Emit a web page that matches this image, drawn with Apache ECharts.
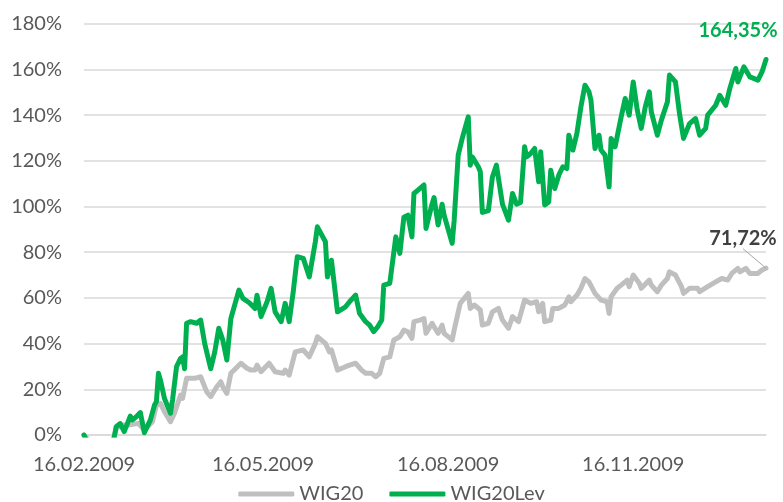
<!DOCTYPE html>
<html>
<head>
<meta charset="utf-8">
<script src="https://cdn.jsdelivr.net/npm/echarts@6/dist/echarts.min.js"></script>
<style>
html,body{margin:0;padding:0;background:#fff;}
#chart{width:783px;height:502px;}
</style>
</head>
<body>
<div id="chart"></div>
<script>
// ---- data (x = days since the start date) ----
const startDate = '16.02.2009';
const xTickLabels = ['16.02.2009', '16.05.2009', '16.08.2009', '16.11.2009'];
const seriesNames = ['WIG20', 'WIG20Lev'];
const endLabels = ['71,72%', '164,35%'];

const wigDays = [0,3,6,9,12,15,16,19,22,27,30,34,36,38,40,43,45,48,49,51,55,58,61,63,66,68,69,71,73,78,81,83,85,86,88,92,95,99,100,102,105,109,112,115,116,120,122,123,126,130,132,135,138,140,143,145,147,149,152,154,157,159,161,163,164,167,169,170,173,174,176,178,179,183,184,187,191,192,194,197,198,201,203,206,208,211,213,216,219,222,225,226,228,229,232,233,236,239,241,242,245,247,249,251,254,257,260,261,262,265,267,270,271,273,276,277,281,282,285,287,290,291,294,297,298,301,305,306,310,314,317,320,322,325,326,329,331,335,337,339];
const wigVals = [0,-3,-5,-4,-5,-1,2.9,4.4,4.4,5.1,2.2,5.8,13.1,13.8,10.2,5.8,9.5,17.5,16,24.8,24.8,25.5,18.9,16.8,21.1,23.3,21.1,18.2,27,31.4,29.2,28.4,28.4,30.6,27.7,31.4,27.7,27,28.4,26.2,36.4,37.2,34.2,40.1,43,40.1,36.4,37.2,28.4,29.9,30.6,31.4,28.4,27,27,25.5,27,33.5,34.2,41.6,43,45.9,45.2,42.3,49.6,50.3,51,44.5,48.9,47.4,44.5,48.1,44.5,41.6,45.9,57.6,62,55.4,56.9,54.7,48.1,48.9,53.9,55.4,50.3,46.7,51.8,49.6,59.1,57.6,58.3,53.9,57.6,49.6,50.3,55.4,55.4,56.9,60.5,58.3,61.2,64.2,68.5,67,62,59,58.3,53.2,60.5,64.2,65.6,67.8,64.9,70,66.4,64.2,67.8,65.6,62.7,65.6,68.5,71.4,70,64.9,62,64.2,64.2,62.7,64.9,67,68.5,67.8,70.7,72.9,71.4,72.9,70.7,70.7,72.2,73];

const levDays = [0,3,6,9,12,15,16,18,20,23,24,26,28,30,33,35,36,37,38,40,43,44,46,48,49,50,51,53,56,58,60,63,65,67,69,71,73,77,79,82,85,86,88,91,93,95,98,100,102,104,106,109,112,115,116,120,121,123,126,130,132,135,137,140,142,144,146,148,149,152,155,157,159,161,163,164,166,169,170,173,174,176,178,179,183,184,186,188,191,192,193,196,197,198,201,203,205,208,211,213,215,217,219,220,222,224,226,227,229,231,232,234,236,238,240,241,243,245,247,249,251,252,254,256,257,259,261,262,264,267,269,271,273,275,277,279,281,282,285,287,290,291,294,296,298,301,304,306,309,310,314,316,319,321,324,325,328,330,331,335,337,339];
const levVals = [0,-6,-9,-7,-10,-1,3.6,5,1.5,8.3,6.6,8,9.8,1,6.6,13,14.6,27,24,16,9.5,15.3,29.9,33.5,34.2,29,48.9,49.6,48.9,50.3,40,29,36.4,46.7,41.5,32.8,51,63.4,59.8,58,55.4,61.2,51.8,58.3,64.2,53.9,49.6,57.6,49.6,62.7,78,77.3,69.2,84.6,91.1,84.6,69.2,76.5,53.9,56.1,58.3,61.2,53.2,49.6,48.1,45.2,47.4,50.3,65.6,66.4,86.7,79.5,95.3,96.2,86.7,105.7,107.2,109.4,90.4,101,103.9,91.9,101,96.2,83.9,94,122.5,129.8,139.2,118.1,121.7,117.4,115.2,97.4,98.2,112.9,118.1,101,94,105.7,101,101.8,126.1,121.7,123.2,125.4,110.8,124,100.7,102,115.9,107.9,113.7,117.4,116.6,131.2,124.7,132,143.6,153.1,150.2,146.5,125.4,131.2,124.7,122.5,108.6,129.8,126.1,139.2,147.3,140,154.5,142.2,134.2,143.6,150.2,141.4,131.2,137.8,145.8,157.5,154.5,140.7,129.8,136.3,138.5,131.2,134.2,140,144.3,148.7,144.3,151.6,160.4,154.5,161.1,158.2,156.7,155.3,158.9,164.35];

// ---- helpers ----
function parseDMY(s) {
  const p = s.split('.');
  return Date.UTC(+p[2], +p[1] - 1, +p[0]);
}
const t0 = parseDMY(startDate);
const DAY = 86400000;
function fmtDay(d) {
  const dt = new Date(t0 + d * DAY);
  const dd = String(dt.getUTCDate()).padStart(2, '0');
  const mm = String(dt.getUTCMonth() + 1).padStart(2, '0');
  return dd + '.' + mm + '.' + dt.getUTCFullYear();
}
const tickDays = xTickLabels.map(s => Math.round((parseDMY(s) - t0) / DAY));
const lastDay = Math.max(wigDays[wigDays.length - 1], levDays[levDays.length - 1]);

const FONT = 'Lato';
const GREEN = '#00B050';
const GRAY = '#BFBFBF';

function buildData(days, vals, labelText, labelColor, withLine) {
  return days.map((d, i) => {
    if (i === days.length - 1) {
      return {
        value: [d, vals[i]],
        symbol: 'circle',
        symbolSize: 1,
        itemStyle: { color: 'rgba(0,0,0,0)' },
        label: {
          show: true,
          position: 'top',
          formatter: labelText,
          color: labelColor,
          fontFamily: FONT,
          fontWeight: 'bold',
          fontSize: 20
        },
        labelLine: withLine ? { show: true, lineStyle: { color: '#A6A6A6', width: 1 } } : { show: false }
      };
    }
    return [d, vals[i]];
  });
}

const chart = echarts.init(document.getElementById('chart'), null, { renderer: 'canvas' });
chart.setOption({
  animation: false,
  backgroundColor: '#ffffff',
  grid: { left: 84, right: 17, top: 23.7, bottom: 67, containLabel: false },
  xAxis: {
    type: 'value',
    min: 0,
    max: lastDay,
    splitLine: { show: false },
    axisTick: { show: false },
    axisLine: { show: true, lineStyle: { color: '#D9D9D9', width: 1.5 } },
    axisLabel: {
      customValues: tickDays,
      formatter: v => fmtDay(v),
      color: '#595959',
      fontFamily: FONT,
      fontSize: 20,
      margin: 20
    }
  },
  yAxis: {
    type: 'value',
    min: 0,
    max: 180,
    interval: 20,
    axisLine: { show: false },
    axisTick: { show: false },
    splitLine: { lineStyle: { color: '#D9D9D9', width: 1.5 } },
    axisLabel: {
      formatter: '{value}%',
      color: '#595959',
      fontFamily: FONT,
      fontSize: 20,
      margin: 22
    }
  },
  legend: {
    data: seriesNames,
    left: 'center',
    top: 484,
    icon: 'roundRect',
    itemWidth: 56,
    itemHeight: 5,
    itemGap: 26,
    padding: 0,
    textStyle: { color: '#595959', fontFamily: FONT, fontSize: 20 }
  },
  series: [
    {
      name: seriesNames[0],
      type: 'line',
      data: buildData(wigDays, wigVals, endLabels[0], '#404040', true),
      showSymbol: true,
      showAllSymbol: true,
      symbol: 'none',
      color: GRAY,
      lineStyle: { color: GRAY, width: 5, join: 'round', cap: 'round' },
      labelLayout: { dx: -23, dy: -14 },
      z: 2
    },
    {
      name: seriesNames[1],
      type: 'line',
      data: buildData(levDays, levVals, endLabels[1], GREEN, false),
      showSymbol: true,
      showAllSymbol: true,
      symbol: 'none',
      color: GREEN,
      lineStyle: { color: GREEN, width: 5, join: 'round', cap: 'round' },
      labelLayout: { dx: -28, dy: -13 },
      z: 3
    }
  ]
});
</script>
</body>
</html>
